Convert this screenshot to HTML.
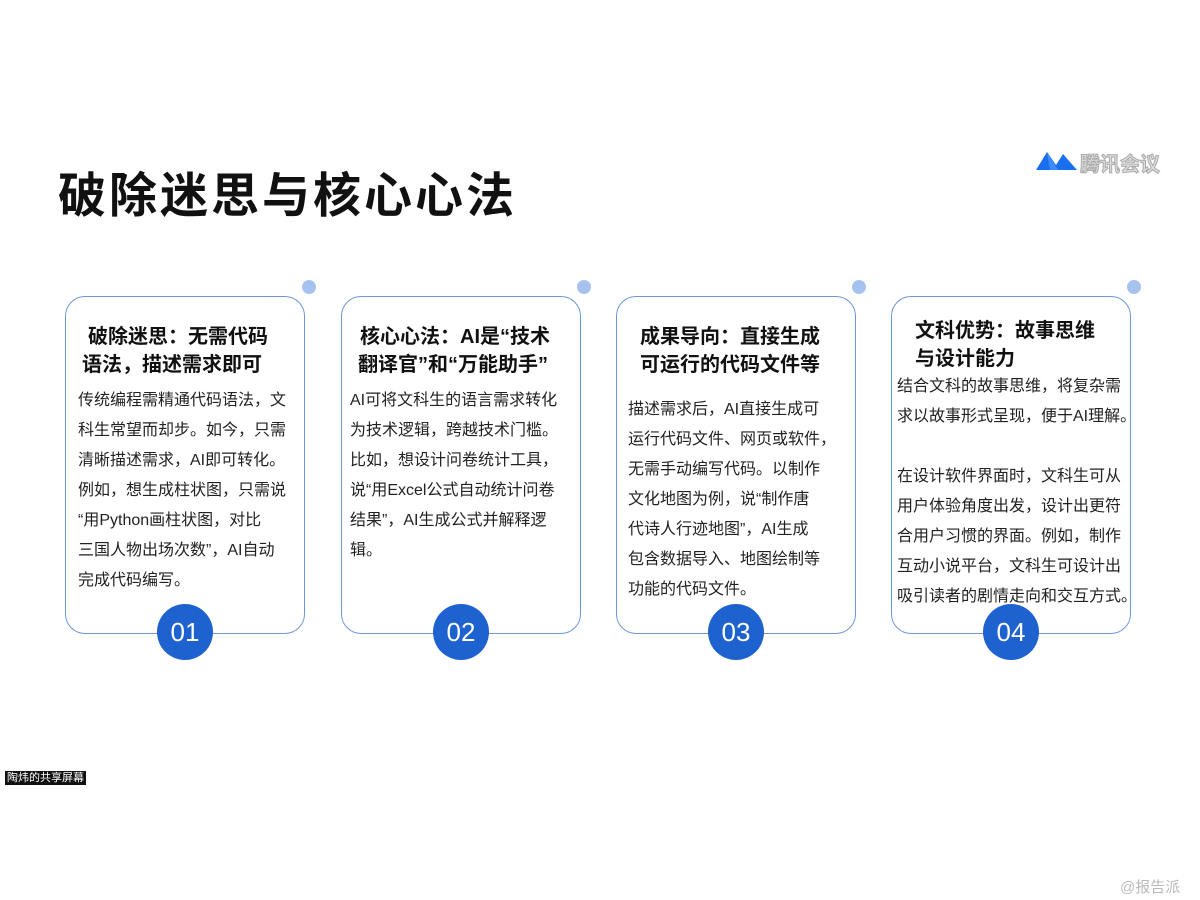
<!DOCTYPE html>
<html><head><meta charset="utf-8"><style>
body{margin:0;width:1200px;height:900px;background:#fff;position:relative;overflow:hidden;font-family:"Liberation Sans","Noto Sans CJK SC",sans-serif;color:#111}
.a{position:absolute;white-space:nowrap}
.card{position:absolute;top:296px;width:238px;height:336px;border:1.5px solid #6f97d8;border-radius:20px;background:#fff}
.dot{position:absolute;width:14px;height:14px;border-radius:50%;background:#a6c3f0;top:280px}
.num{position:absolute;width:56px;height:56px;border-radius:50%;background:#1e62d0;color:#fff;font-size:26px;text-align:center;line-height:56px;top:604px}
.t{font-size:20px;font-weight:bold;color:#111}
.b{font-size:16px;color:#222}
</style></head><body>
<div class="a" style="left:58px;top:156px;font-size:48px;font-weight:bold;letter-spacing:3px">破除迷思与核心心法</div>
<svg class="a" style="left:1036px;top:148px" width="42" height="24" viewBox="0 0 42 24"><path d="M0 22 L11 4 L20 17 L27 6 L41 22 Z" fill="#1a6ef0"/><path d="M11 4 L22 22 L14 22 Z" fill="#3c8cff"/></svg>
<div class="a" style="left:1080px;top:148px;font-size:20px;color:#ddd;-webkit-text-stroke:1px #aaa;font-weight:bold">腾讯会议</div>

<div class="card" style="left:65px"></div><div class="dot" style="left:302px"></div><div class="num" style="left:157px">01</div>
<div class="card" style="left:341px"></div><div class="dot" style="left:577px"></div><div class="num" style="left:433px">02</div>
<div class="card" style="left:616px"></div><div class="dot" style="left:852px"></div><div class="num" style="left:708px">03</div>
<div class="card" style="left:891px"></div><div class="dot" style="left:1127px"></div><div class="num" style="left:983px">04</div>

<div class="a t" style="left:88px;top:320px">破除迷思：无需代码</div>
<div class="a t" style="left:82px;top:348px">语法，描述需求即可</div>
<div class="a b" style="left:78px;top:386px;line-height:30px">传统编程需精通代码语法，文<br>科生常望而却步。如今，只需<br>清晰描述需求，AI即可转化。<br>例如，想生成柱状图，只需说<br>“用Python画柱状图，对比<br>三国人物出场次数”，AI自动<br>完成代码编写。</div>

<div class="a t" style="left:360px;top:320px">核心心法：AI是“技术</div>
<div class="a t" style="left:358px;top:348px">翻译官”和“万能助手”</div>
<div class="a b" style="left:350px;top:386px;line-height:30px">AI可将文科生的语言需求转化<br>为技术逻辑，跨越技术门槛。<br>比如，想设计问卷统计工具，<br>说“用Excel公式自动统计问卷<br>结果”，AI生成公式并解释逻<br>辑。</div>

<div class="a t" style="left:640px;top:320px">成果导向：直接生成</div>
<div class="a t" style="left:640px;top:348px">可运行的代码文件等</div>
<div class="a b" style="left:628px;top:395px;line-height:30px">描述需求后，AI直接生成可<br>运行代码文件、网页或软件，<br>无需手动编写代码。以制作<br>文化地图为例，说“制作唐<br>代诗人行迹地图”，AI生成<br>包含数据导入、地图绘制等<br>功能的代码文件。</div>

<div class="a t" style="left:915px;top:314px">文科优势：故事思维</div>
<div class="a t" style="left:915px;top:342px">与设计能力</div>
<div class="a b" style="left:897px;top:372px;line-height:30px">结合文科的故事思维，将复杂需<br>求以故事形式呈现，便于AI理解。<br><br>在设计软件界面时，文科生可从<br>用户体验角度出发，设计出更符<br>合用户习惯的界面。例如，制作<br>互动小说平台，文科生可设计出<br>吸引读者的剧情走向和交互方式。</div>

<div class="a" style="left:5px;top:771px;background:#111;color:#fff;font-size:11px;padding:0 2px;line-height:14px">陶炜的共享屏幕</div>
<div class="a" style="left:1120px;top:876px;font-size:15px;color:#bbb">@报告派</div>
</body></html>
